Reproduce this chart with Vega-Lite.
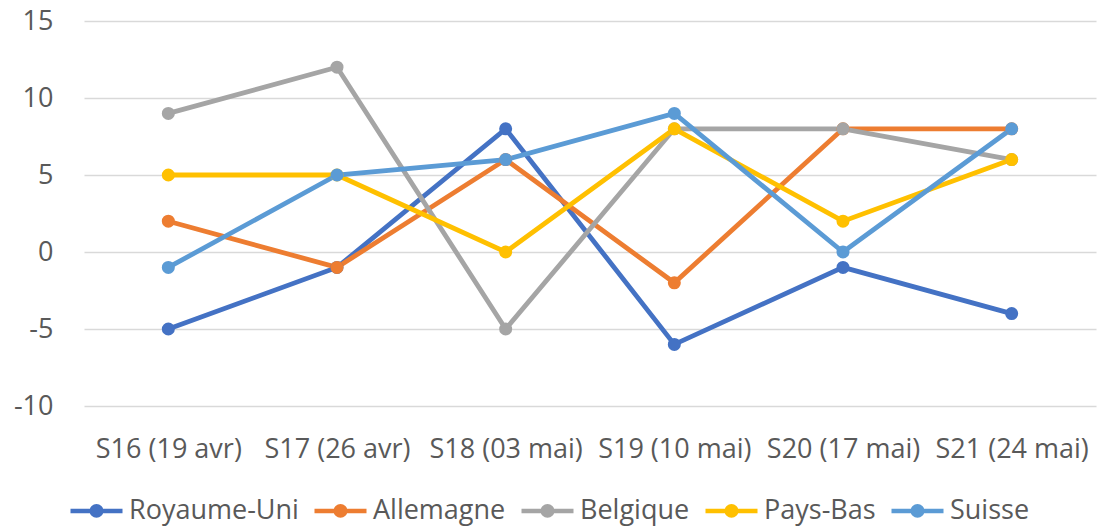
{
  "$schema": "https://vega.github.io/schema/vega-lite/v6.json",
  "width": 1012,
  "height": 385,
  "autosize": {"type": "none"},
  "padding": {"left": 84, "top": 21, "right": 1, "bottom": 120},
  "background": "white",
  "config": {
    "view": {"stroke": null},
    "font": "Open Sans"
  },
  "data": {
    "values": [
      {"semaine": "S16 (19 avr)", "pays": "Royaume-Uni", "valeur": -5},
      {"semaine": "S17 (26 avr)", "pays": "Royaume-Uni", "valeur": -1},
      {"semaine": "S18 (03 mai)", "pays": "Royaume-Uni", "valeur": 8},
      {"semaine": "S19 (10 mai)", "pays": "Royaume-Uni", "valeur": -6},
      {"semaine": "S20 (17 mai)", "pays": "Royaume-Uni", "valeur": -1},
      {"semaine": "S21 (24 mai)", "pays": "Royaume-Uni", "valeur": -4},
      {"semaine": "S16 (19 avr)", "pays": "Allemagne", "valeur": 2},
      {"semaine": "S17 (26 avr)", "pays": "Allemagne", "valeur": -1},
      {"semaine": "S18 (03 mai)", "pays": "Allemagne", "valeur": 6},
      {"semaine": "S19 (10 mai)", "pays": "Allemagne", "valeur": -2},
      {"semaine": "S20 (17 mai)", "pays": "Allemagne", "valeur": 8},
      {"semaine": "S21 (24 mai)", "pays": "Allemagne", "valeur": 8},
      {"semaine": "S16 (19 avr)", "pays": "Belgique", "valeur": 9},
      {"semaine": "S17 (26 avr)", "pays": "Belgique", "valeur": 12},
      {"semaine": "S18 (03 mai)", "pays": "Belgique", "valeur": -5},
      {"semaine": "S19 (10 mai)", "pays": "Belgique", "valeur": 8},
      {"semaine": "S20 (17 mai)", "pays": "Belgique", "valeur": 8},
      {"semaine": "S21 (24 mai)", "pays": "Belgique", "valeur": 6},
      {"semaine": "S16 (19 avr)", "pays": "Pays-Bas", "valeur": 5},
      {"semaine": "S17 (26 avr)", "pays": "Pays-Bas", "valeur": 5},
      {"semaine": "S18 (03 mai)", "pays": "Pays-Bas", "valeur": 0},
      {"semaine": "S19 (10 mai)", "pays": "Pays-Bas", "valeur": 8},
      {"semaine": "S20 (17 mai)", "pays": "Pays-Bas", "valeur": 2},
      {"semaine": "S21 (24 mai)", "pays": "Pays-Bas", "valeur": 6},
      {"semaine": "S16 (19 avr)", "pays": "Suisse", "valeur": -1},
      {"semaine": "S17 (26 avr)", "pays": "Suisse", "valeur": 5},
      {"semaine": "S18 (03 mai)", "pays": "Suisse", "valeur": 6},
      {"semaine": "S19 (10 mai)", "pays": "Suisse", "valeur": 9},
      {"semaine": "S20 (17 mai)", "pays": "Suisse", "valeur": 0},
      {"semaine": "S21 (24 mai)", "pays": "Suisse", "valeur": 8}
    ]
  },
  "mark": {"type": "line", "strokeWidth": 4.8, "point": {"size": 170, "filled": true, "opacity": 1}},
  "encoding": {
    "x": {
      "field": "semaine", "type": "ordinal", "sort": null,
      "scale": {"type": "point", "padding": 0.5},
      "axis": {"title": null, "labelAngle": 0, "ticks": false, "domain": false, "grid": false, "labelPadding": 30,
        "labelFont": "Open Sans", "labelFontSize": 27, "labelColor": "#595959"}
    },
    "y": {
      "field": "valeur", "type": "quantitative",
      "scale": {"domain": [-10, 15], "nice": false},
      "axis": {"title": null, "values": [-10, -5, 0, 5, 10, 15], "ticks": false, "domain": false, "gridColor": "#D9D9D9", "gridWidth": 1.5, "labelPadding": 31,
        "labelExpr": "'' + datum.value",
        "labelFont": "Open Sans", "labelFontSize": 27, "labelColor": "#595959"}
    },
    "color": {
      "field": "pays", "type": "nominal",
      "scale": {
        "domain": ["Royaume-Uni", "Allemagne", "Belgique", "Pays-Bas", "Suisse"],
        "range": ["#4472C4", "#ED7D31", "#A5A5A5", "#FFC000", "#5B9BD5"]
      },
      "legend": {
        "title": null, "orient": "none", "legendX": -16, "legendY": 461,
        "direction": "horizontal", "columns": 5,
        "labelFont": "Open Sans", "labelFontSize": 27, "labelColor": "#595959", "labelLimit": 400,
        "symbolType": "M-1,0H1M-0.18,0A0.18,0.18 0 1,0 0.18,0A0.18,0.18 0 1,0 -0.18,0Z",
        "symbolSize": 2704, "symbolStrokeWidth": 4.5, "labelOffset": 4, "columnPadding": 6
      }
    }
  }
}
